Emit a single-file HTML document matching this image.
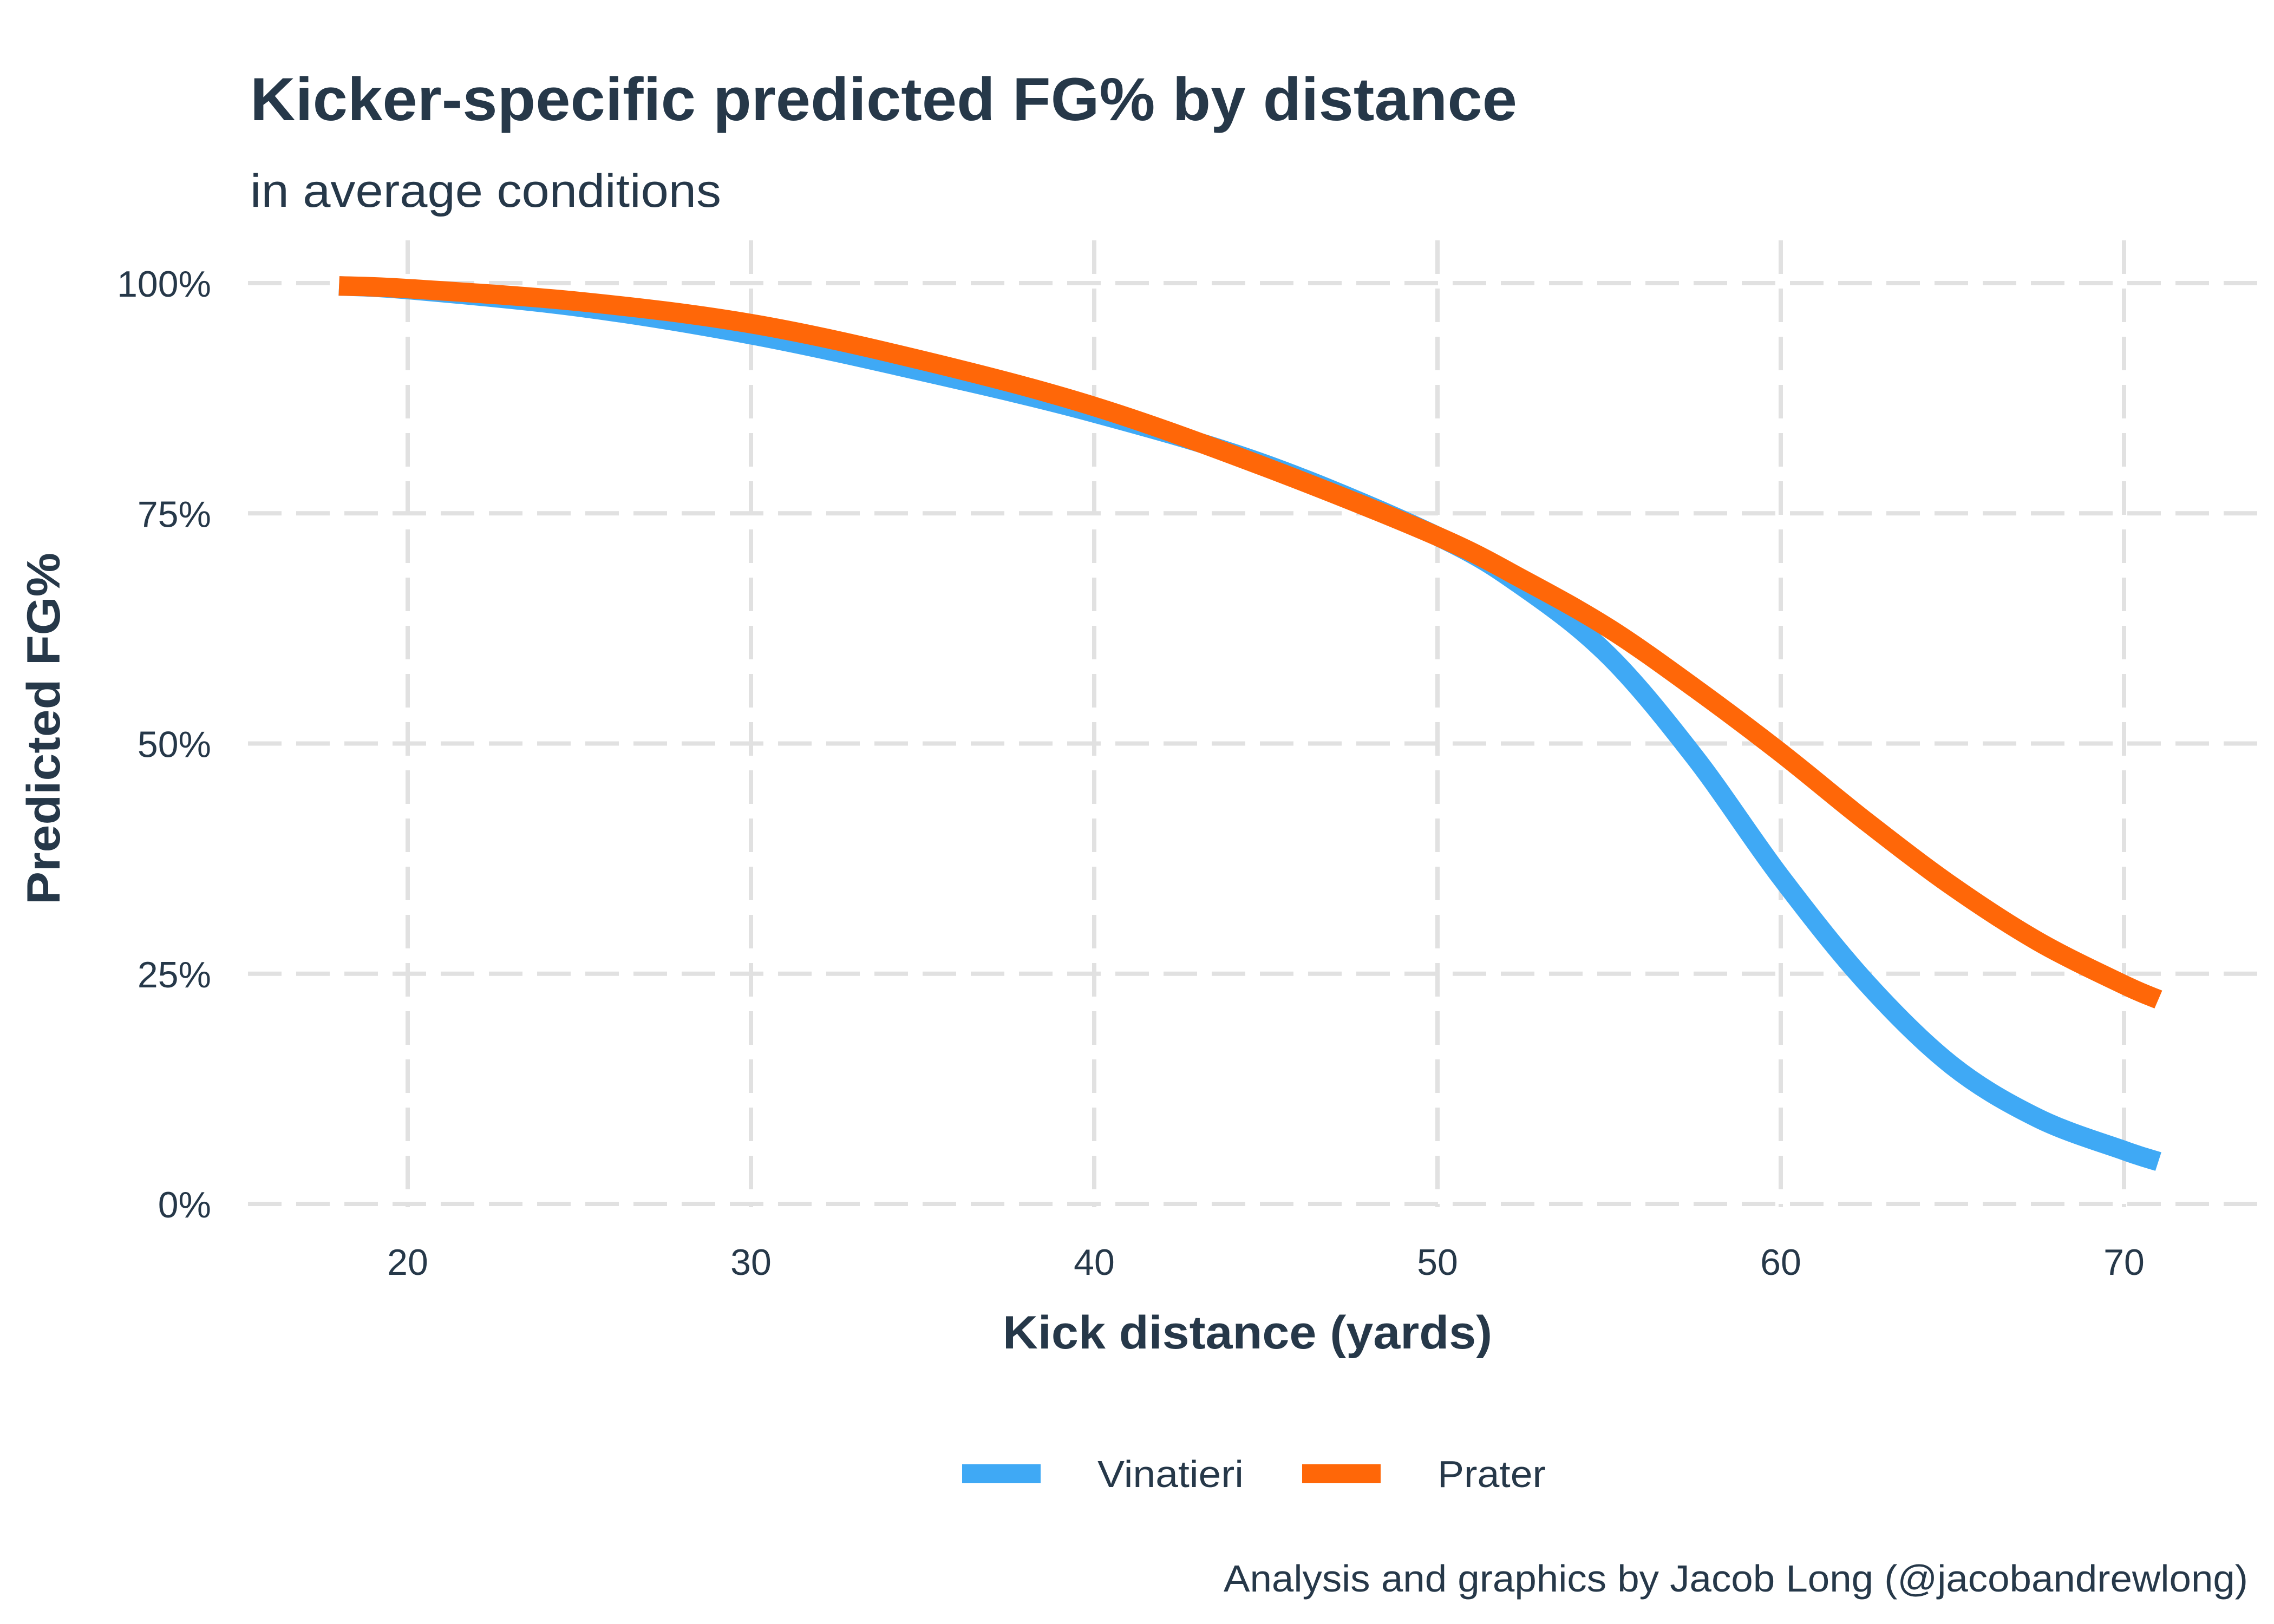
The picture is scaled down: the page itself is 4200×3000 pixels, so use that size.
<!DOCTYPE html>
<html><head><meta charset="utf-8"><style>
html,body{margin:0;padding:0;background:#fff;}
svg{display:block;}
text{font-family:"Liberation Sans",sans-serif;fill:#263849;}
</style></head><body>
<svg id="chart" width="4200" height="3000" viewBox="0 0 4200 3000" xmlns="http://www.w3.org/2000/svg">
<rect width="4200" height="3000" fill="#fff"/>
<text x="462" y="222" font-size="112" font-weight="bold" textLength="2340" lengthAdjust="spacingAndGlyphs">Kicker-specific predicted FG% by distance</text>
<text x="462" y="382" font-size="86" textLength="870" lengthAdjust="spacingAndGlyphs">in average conditions</text>
<g id="grid"></g>
<g id="yticks"></g>
<g id="xticks"></g>
<g id="series"></g>
<text x="2304" y="2491" font-size="86" font-weight="bold" text-anchor="middle" textLength="904" lengthAdjust="spacingAndGlyphs">Kick distance (yards)</text>
<text transform="translate(110,1346) rotate(-90)" font-size="86" font-weight="bold" text-anchor="middle" textLength="650" lengthAdjust="spacingAndGlyphs">Predicted FG%</text>
<g>
<rect x="1777" y="2705" width="145" height="35" fill="#3fa9f5"/>
<text x="2027" y="2747" font-size="70" textLength="270" lengthAdjust="spacingAndGlyphs">Vinatieri</text>
<rect x="2405" y="2705" width="145" height="35" fill="#ff6708"/>
<text x="2655" y="2747" font-size="70" textLength="200" lengthAdjust="spacingAndGlyphs">Prater</text>
</g>
<text x="4152" y="2940" font-size="70" text-anchor="end" textLength="1892" lengthAdjust="spacingAndGlyphs">Analysis and graphics by Jacob Long (@jacobandrewlong)</text>
</svg>
<script>
const distances = [18, 20, 25, 30, 35, 40, 45, 50, 52.5, 55, 57.5, 60, 62.5, 65, 67.5, 70, 71];
const vinatieri = [99.7, 99.3, 97.4, 94.4, 90.4, 85.9, 80.3, 72.5, 67, 59.5, 48.5, 35.5, 24, 15, 9.3, 5.8, 4.6];
const prater = [99.7, 99.4, 98, 95.6, 91.6, 86.6, 80, 72.5, 67.8, 62.5, 56, 49, 41.5, 34.5, 28.5, 23.8, 22.2];
const xTicks = [20, 30, 40, 50, 60, 70];
const yTicks = [0, 25, 50, 75, 100];
const yTickLabels = ["0%", "25%", "50%", "75%", "100%"];

const NS = "http://www.w3.org/2000/svg";
const xs = v => 753 + (v - 20) * (3923 - 753) / 50;
const ys = v => 2224 - v * (2224 - 523) / 100;

const grid = document.getElementById('grid');
yTicks.forEach(t => {
  const l = document.createElementNS(NS, 'line');
  
  
  l.setAttribute('x1', 458); l.setAttribute('x2', 4173);
  l.setAttribute('y1', ys(t)); l.setAttribute('y2', ys(t));
  l.setAttribute('stroke', '#e1e1e1'); l.setAttribute('stroke-width', 8);
  l.setAttribute('stroke-dasharray', '62 27');
  grid.appendChild(l);
});
xTicks.forEach(t => {
  const l = document.createElementNS(NS, 'line');
  
  
  l.setAttribute('x1', xs(t)); l.setAttribute('x2', xs(t));
  l.setAttribute('y1', 444); l.setAttribute('y2', 2230);
  l.setAttribute('stroke', '#e1e1e1'); l.setAttribute('stroke-width', 8);
  l.setAttribute('stroke-dasharray', '62 27');
  grid.appendChild(l);
});
const yg = document.getElementById('yticks');
yTicks.forEach((t, i) => {
  const tx = document.createElementNS(NS, 'text');
  
  
  tx.setAttribute('x', 390); tx.setAttribute('y', ys(t) + 25);
  tx.setAttribute('font-size', 68); tx.setAttribute('text-anchor', 'end');
  tx.textContent = yTickLabels[i];
  yg.appendChild(tx);
});
const xg = document.getElementById('xticks');
xTicks.forEach(t => {
  const tx = document.createElementNS(NS, 'text');
  
  
  tx.setAttribute('x', xs(t)); tx.setAttribute('y', 2355);
  tx.setAttribute('font-size', 68); tx.setAttribute('text-anchor', 'middle');
  tx.textContent = t;
  xg.appendChild(tx);
});
function pathFor(vals) {
  const p = distances.map((d, i) => [xs(d), ys(vals[i])]);
  let s = 'M' + p[0][0] + ',' + p[0][1];
  for (let i = 0; i < p.length - 1; i++) {
    const p0 = p[Math.max(i - 1, 0)], p1 = p[i], p2 = p[i + 1], p3 = p[Math.min(i + 2, p.length - 1)];
    const c1x = p1[0] + (p2[0] - p0[0]) / 6, c1y = p1[1] + (p2[1] - p0[1]) / 6;
    const c2x = p2[0] - (p3[0] - p1[0]) / 6, c2y = p2[1] - (p3[1] - p1[1]) / 6;
    s += ' C' + c1x + ',' + c1y + ' ' + c2x + ',' + c2y + ' ' + p2[0] + ',' + p2[1];
  }
  return s;
}
const sg = document.getElementById('series');
const vl = document.createElementNS(NS, 'path');


vl.setAttribute('d', pathFor(vinatieri));
vl.setAttribute('fill', 'none'); vl.setAttribute('stroke', '#3fa9f5'); vl.setAttribute('stroke-width', 36);
sg.appendChild(vl);
const pl = document.createElementNS(NS, 'path');


pl.setAttribute('d', pathFor(prater));
pl.setAttribute('fill', 'none'); pl.setAttribute('stroke', '#ff6708'); pl.setAttribute('stroke-width', 36);
sg.appendChild(pl);
</script>
</body></html>
